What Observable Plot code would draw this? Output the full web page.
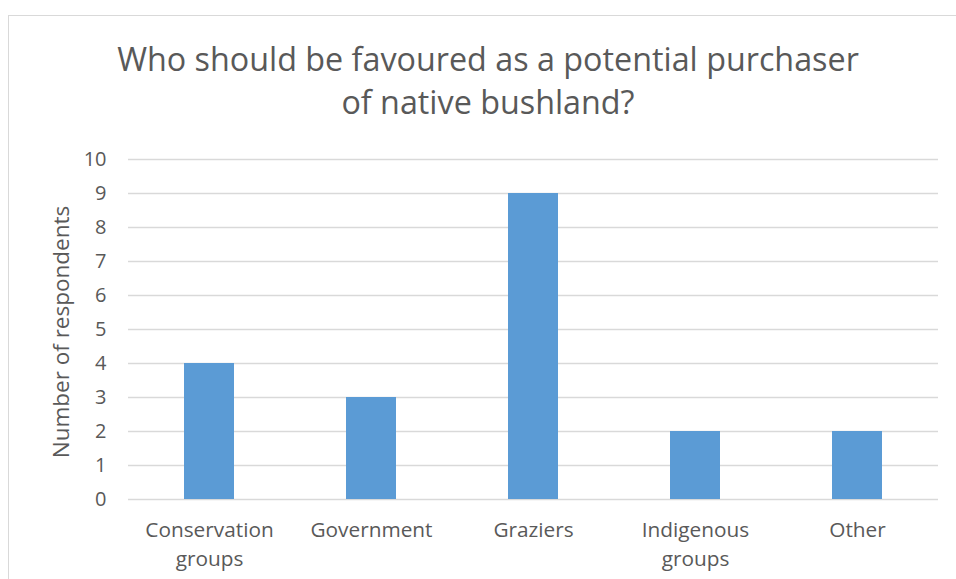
<!DOCTYPE html>
<html>
<head>
<meta charset="utf-8">
<script src="https://cdn.jsdelivr.net/npm/d3@7"></script>
<script src="https://cdn.jsdelivr.net/npm/@observablehq/plot@0.6"></script>
<style>
  html, body { margin: 0; padding: 0; background: #fff; width: 956px; height: 579px; overflow: hidden; }
  #frame { position: absolute; left: 8px; top: 15px; width: 1000px; height: 700px; border: 1.5px solid #d9d9d9; box-sizing: border-box; }
  #title { position: absolute; left: 0; top: 37px; width: 976px; text-align: center; font-family: "Open Sans", sans-serif; font-size: 32.3px; line-height: 43px; color: #595959; font-weight: 400; }
  #chart { position: absolute; left: 0; top: 130px; }
  #ylabel { position: absolute; left: 60px; top: 332px; transform: translate(-50%, -50%) rotate(-90deg); font-family: "Open Sans", sans-serif; font-size: 22.5px; color: #595959; white-space: nowrap; }
</style>
</head>
<body>
<div id="frame"></div>
<div id="title">Who should be favoured as a potential purchaser<br>of native bushland?</div>
<div id="ylabel">Number of respondents</div>
<div id="chart"></div>
<script>
const categories = ["Conservation\ngroups", "Government", "Graziers", "Indigenous\ngroups", "Other"];
const respondents = [4, 3, 9, 2, 2];
const yTicks = [0, 1, 2, 3, 4, 5, 6, 7, 8, 9, 10];

const data = categories.map((c, i) => ({category: c, value: respondents[i]}));

const chart = Plot.plot({
  width: 956,
  height: 449,
  marginTop: 29,
  marginBottom: 80,
  marginLeft: 128,
  marginRight: 18,
  style: {fontFamily: "Open Sans, sans-serif", fontSize: "20px", color: "#595959", background: "transparent"},
  x: {domain: categories, paddingInner: 0.69, paddingOuter: 0.345, label: null},
  y: {domain: [0, 10], label: null},
  marks: [
    Plot.gridY(yTicks, {stroke: "#d9d9d9", strokeOpacity: 1, strokeWidth: 1.3}),
    Plot.barY(data, {x: "category", y: "value", fill: "#5B9BD5"}),
    Plot.axisY({ticks: yTicks, tickSize: 0, tickPadding: 22, fontSize: 20, fill: "#595959"}),
    Plot.axisX({tickSize: 0, tickPadding: 17, fontSize: 20.8, fill: "#595959", lineHeight: 1.38})
  ]
});
document.getElementById("chart").appendChild(chart);
</script>
</body>
</html>
